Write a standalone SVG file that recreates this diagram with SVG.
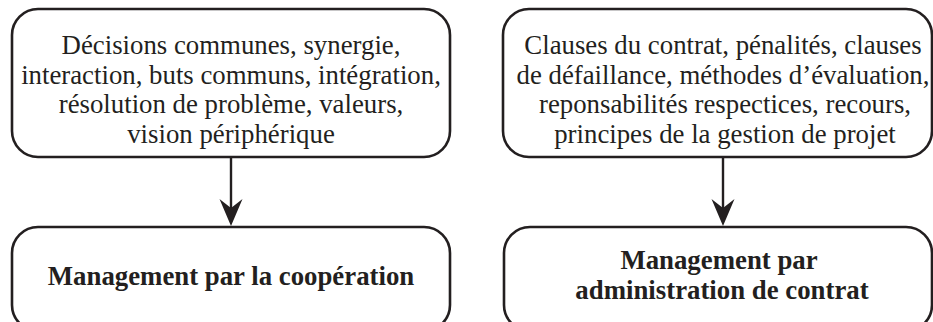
<svg xmlns="http://www.w3.org/2000/svg" width="933" height="322" viewBox="0 0 933 322">
  <style>
    .box { fill: #ffffff; stroke: #231f20; stroke-width: 2.6; }
    .txt { font-family: "Liberation Serif", "Times New Roman", serif; font-size: 26.8px; fill: #231f20; text-anchor: middle; }
    .bold { font-weight: bold; }
    .conn { stroke: #231f20; stroke-width: 2.4; fill: none; }
  </style>
  <defs>
    <marker id="arrow" markerUnits="userSpaceOnUse" viewBox="-28 -13 29 26" markerWidth="29" markerHeight="26" refX="-14" refY="0" orient="auto">
      <path d="M0,0 L-27,-11.5 L-18,0 L-27,11.5 Z" fill="#231f20"/>
    </marker>
  </defs>
  <rect width="933" height="322" fill="#ffffff"/>

  <g id="node-cooperation-inputs">
    <rect class="box" x="12" y="9" width="438" height="148" rx="26" ry="26"/>
    <text class="txt" x="231" y="54">Décisions communes, synergie,</text>
    <text class="txt" x="231" y="83.5">interaction, buts communs, intégration,</text>
    <text class="txt" x="231" y="113">résolution de problème, valeurs,</text>
    <text class="txt" x="231" y="142.5">vision périphérique</text>
  </g>

  <g id="node-contract-inputs">
    <rect class="box" x="503" y="9" width="429" height="148" rx="26" ry="26"/>
    <text class="txt" x="723" y="54">Clauses du contrat, pénalités, clauses</text>
    <text class="txt" x="723" y="83.5">de défaillance, méthodes d’évaluation,</text>
    <text class="txt" x="725" y="113">reponsabilités respectices, recours,</text>
    <text class="txt" x="725" y="142.5">principes de la gestion de projet</text>
  </g>

  <g id="node-management-cooperation">
    <rect class="box" x="12" y="227" width="438" height="104" rx="26" ry="26"/>
    <text class="txt bold" x="231" y="285">Management par la coopération</text>
  </g>

  <g id="node-management-contrat">
    <rect class="box" x="504" y="227" width="428" height="104" rx="26" ry="26"/>
    <text class="txt bold" x="719" y="269">Management par</text>
    <text class="txt bold" x="722" y="299">administration de contrat</text>
  </g>

  <g id="connectors">
    <line class="conn" x1="231" y1="157" x2="231" y2="212" marker-end="url(#arrow)"/>
    <line class="conn" x1="723" y1="157" x2="723" y2="212" marker-end="url(#arrow)"/>
  </g>
</svg>
